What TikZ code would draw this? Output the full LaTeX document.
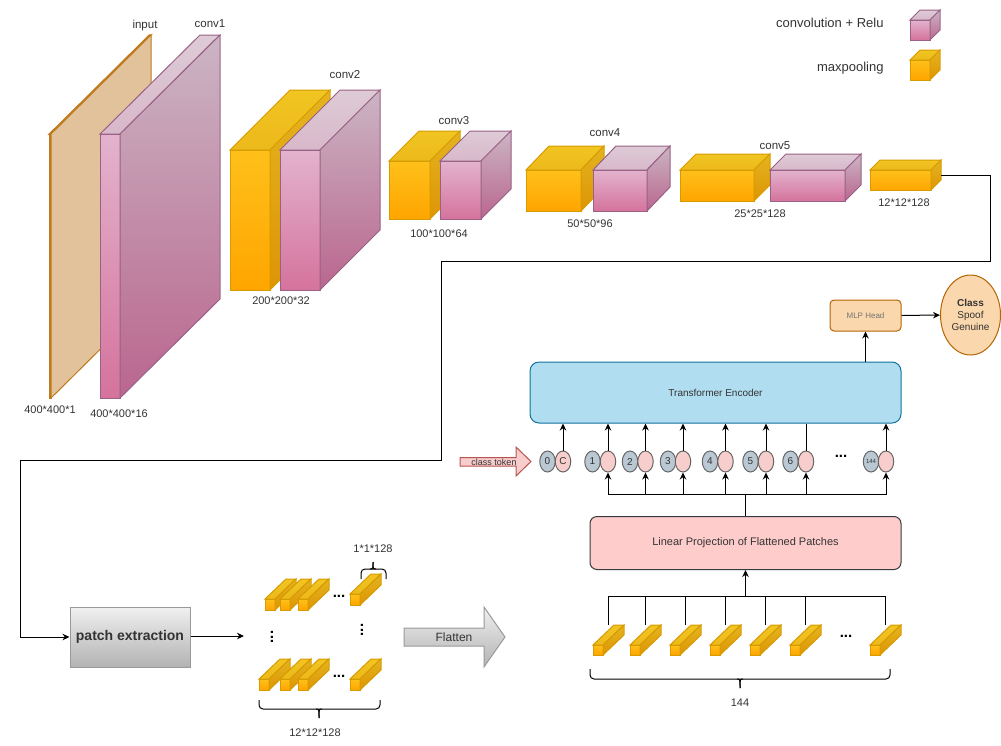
\documentclass[tikz,border=0pt]{standalone}
\usepackage{fontspec}
\setmainfont{Liberation Sans}
\usetikzlibrary{arrows.meta,shapes.geometric}

\definecolor{pinkline}{HTML}{996185}
\definecolor{poolline}{HTML}{D79B00}
\definecolor{plateline}{HTML}{BF7A1E}
\definecolor{inktext}{HTML}{333333}

\tikzset{
	>={Stealth[length=7pt,width=6.5pt]},
	txt/.style={font=\fontsize{#1}{#1}\selectfont,text=inktext,inner sep=0pt},
	txt/.default=11.5,
	dots/.style={font=\fontsize{15}{15}\selectfont\bfseries,text=black,inner sep=0pt},
	pinkfront/.style={draw=pinkline,top color={rgb,255:red,227;green,179;blue,206},bottom color={rgb,255:red,213;green,115;blue,157}},
	pinktop/.style={draw=pinkline,top color={rgb,255:red,222;green,203;blue,214},bottom color={rgb,255:red,216;green,184;blue,202}},
	pinkside/.style={draw=pinkline,top color={rgb,255:red,203;green,181;blue,196},bottom color={rgb,255:red,186;green,102;blue,142}},
	poolfront/.style={draw=poolline,top color={rgb,255:red,255;green,192;blue,26},bottom color={rgb,255:red,255;green,165;blue,0}},
	pooltop/.style={draw=poolline,top color={rgb,255:red,241;green,197;blue,34},bottom color={rgb,255:red,236;green,185;blue,26}},
	poolside/.style={draw=poolline,top color={rgb,255:red,228;green,180;blue,32},bottom color={rgb,255:red,222;green,149;blue,4}},
	platefront/.style={draw=plateline,line width=1.5pt,fill={rgb,255:red,225;green,194;blue,154}},
	platetop/.style={draw=plateline,line width=1.5pt,fill={rgb,255:red,225;green,194;blue,154}},
	plateside/.style={draw=plateline,fill={rgb,255:red,225;green,194;blue,154}},
	token/.style={ellipse,draw=black!60,minimum width=15.5pt,minimum height=21pt,inner sep=0pt,
		font=\fontsize{10}{10}\selectfont,text=inktext},
	bluetoken/.style={token,fill={rgb,255:red,186;green,200;blue,211}},
	redtoken/.style={token,fill={rgb,255:red,248;green,206;blue,204}},
	greybox/.style={draw=black!40,top color=black!6,bottom color=black!30},
}

% name, kind, x, y, width, height, depth x, depth y
\newcommand{\cube}[8]{
	\node[#2front,minimum width=#5pt,minimum height=#6pt,inner sep=0pt,outer sep=0pt,anchor=north west] (#1) at (#3,#4) {};
	\path[#2top] (#1.north west) -- ++(#7,-#8) -- ++(#5,0) -- (#1.north east) -- cycle;
	\path[#2side] (#1.north east) -- ++(#7,-#8) -- ++(0,#6) -- (#1.south east) -- cycle;
}
% left, right, tip x, end y, bar y, tip y
\newcommand{\curly}[6]{
	\draw[rounded corners=4pt] (#1,#4) -- (#1,#5) -- (#2,#5) -- (#2,#4);
	\draw (#3-3,#5) .. controls (#3,#5) .. (#3,#6);
	\draw (#3+3,#5) .. controls (#3,#5) .. (#3,#6);
}

\begin{document}
\begin{tikzpicture}[x=1pt,y=-1pt,line width=1pt]
	\useasboundingbox (0,0) rectangle (1001,745);

	% feature extractor
	\cube{input}{plate}{49.5}{134}{1.5}{264}{100}{99}
	\cube{conva}{pink}{100}{134}{20}{264}{100}{99}
	\cube{poolb}{pool}{230}{150}{40}{140}{60}{60}
	\cube{convb}{pink}{280}{150}{40}{140}{60}{60}
	\cube{poolc}{pool}{389}{161}{41}{58}{30}{30}
	\cube{convc}{pink}{440}{161}{41}{58}{30}{30}
	\cube{poold}{pool}{526}{170}{55}{41}{23}{24}
	\cube{convd}{pink}{593}{170}{54}{41}{23}{24}
	\cube{poole}{pool}{680}{170}{74}{31}{16}{16}
	\cube{conve}{pink}{770}{170}{75}{31}{16}{16}
	\cube{poolf}{pool}{870}{170}{61}{20}{10}{10}

	\node[txt] (lblinput) at (145,26) {input};
	\node[txt] (lblconva) at (210,24) {conv1};
	\node[txt] (lblconvb) at (345,75) {conv2};
	\node[txt] (lblconvc) at (454,121) {conv3};
	\node[txt] (lblconvd) at (605,133) {conv4};
	\node[txt] (lblconve) at (775,146) {conv5};
	\node[txt=11] (dimiput) at (50,410) {400*400*1};
	\node[txt=11] (dima) at (119,414) {400*400*16};
	\node[txt=11] (dimb) at (281,301) {200*200*32};
	\node[txt=11] (dimc) at (439,234) {100*100*64};
	\node[txt=11] (dimd) at (590,224) {50*50*96};
	\node[txt=11] (dime) at (760,214) {25*25*128};
	\node[txt=11] (dimf) at (904,203) {12*12*128};

	% legend
	\node[txt=13,anchor=east] (lblconvrelu) at (884,23) {convolution + Relu};
	\node[txt=13,anchor=east] (lblmaxpool) at (884,68) {maxpooling};
	\cube{legendconv}{pink}{910}{20}{20}{20}{10}{10}
	\cube{legendpool}{pool}{910}{60}{20}{20}{10}{10}

	% patches
	\node[greybox,minimum width=120pt,minimum height=60pt,inner sep=0pt,font=\fontsize{14}{14}\selectfont\bfseries,text=inktext] (patchbox) at (130,637) {patch extraction};
	\coordinate (poolfout) at (941,175);
	\draw[->] (poolfout) -- (990,175) -- (990,261) -- (441,261) -- (441,460) -- (20,460) |- (patchbox.west);
	\coordinate (gridin) at (244,636);
	\draw[->] (patchbox.east |- gridin) -- (gridin);

	\foreach \n/\px/\py in {a/265/599,b/280/599,c/298/599,d/350/594,e/259/679,f/280/679,g/298/679,h/350/679}{
		\cube{grid\n}{pool}{\px}{\py}{10}{11}{21}{20}
	}
	\node[dots] (griddotsa) at (339,596) {...};
	\node[dots] (griddotsb) at (339,676) {...};
	\node[dots,rotate=90] (griddotsc) at (272,637) {...};
	\node[dots,rotate=90] (griddotsd) at (362,630) {...};
	\curly{361}{386}{373}{579}{569}{562}
	\node[txt=11] (lblone) at (373,549) {1*1*128};
	\curly{259}{380}{319}{700}{709}{718}
	\node[txt=11] (lblgrid) at (315,733) {12*12*128};

	% flatten arrow
	\draw[greybox] (404,628) -- (484,628) -- (484,607) -- (505,637) -- (484,667) -- (484,646) -- (404,646) -- cycle;
	\node[txt=12] (lblflatten) at (454,637) {Flatten};

	% flattened row
	\node[draw={rgb,255:red,54;green,57;blue,61},fill={rgb,255:red,255;green,204;blue,204},rounded corners=7pt,minimum width=311pt,minimum height=53pt,inner sep=0pt,txt=11] (linear) at (745.5,543) {Linear Projection of Flattened Patches};
	\coordinate (rowbus) at (745.5,596);
	\foreach \n/\px in {a/593,b/630,c/670,d/710,e/750,f/790,g/870}{
		\cube{row\n}{pool}{\px}{645}{10}{10}{21}{20}
		\path (row\n.north east) ++(5,-20) coordinate (rowtop\n);
		\draw (rowtop\n) |- (rowbus);
	}
	\draw[->] (rowbus) -- (linear.south);
	\node[dots] (rowdots) at (846,636) {...};
	\curly{590}{890}{740}{669}{679}{688}
	\node[txt=11] (lblrow) at (740,703) {144};

	% encoder and head
	\node[draw={rgb,255:red,16;green,115;blue,158},fill={rgb,255:red,177;green,221;blue,240},rounded corners=9pt,minimum width=371pt,minimum height=61pt,inner sep=0pt,txt=10] (encoder) at (715.5,392.5) {Transformer Encoder};
	\node[draw={rgb,255:red,180;green,101;blue,4},fill={rgb,255:red,250;green,215;blue,172},rounded corners=4pt,minimum width=71pt,minimum height=31pt,inner sep=0pt,font=\fontsize{8}{8}\selectfont,text=black!55] (mlphead) at (865.5,315.5) {MLP Head};
	\node[ellipse,draw={rgb,255:red,180;green,101;blue,4},fill={rgb,255:red,250;green,215;blue,172},minimum width=60pt,minimum height=80pt,inner sep=0pt,align=center,font=\fontsize{10}{12}\selectfont,text=inktext] (classout) at (970.5,315) {\textbf{Class}\\Spoof\\Genuine};
	\draw[->] (encoder.north -| mlphead) -- (mlphead);
	\draw[->] (mlphead) -- (classout);

	% tokens
	\draw[draw={rgb,255:red,184;green,84;blue,80},fill={rgb,255:red,248;green,206;blue,204}] (460,457.5) -- (516,457.5) -- (516,447) -- (531,461.5) -- (516,476) -- (516,466) -- (460,466) -- cycle;
	\node[txt=9] (lblclass) at (494,462) {class token};
	\node[bluetoken] (blue0) at (547.5,461.5) {0};
	\node[redtoken] (red0) at (563,461.5) {C};
	\coordinate (tokbus) at (745.5,494);
	\draw (linear.north) -- (tokbus);
	\foreach \n/\xa/\xb in {1/592.5/608,2/630/645.5,3/668/683,4/710/725.5,5/750.5/766,6/790.5/806}{
		\node[bluetoken] (blue\n) at (\xa,461.5) {\n};
		\node[redtoken] (red\n) at (\xb,461.5) {};
		\draw[->] (tokbus) -| (red\n.south);
	}
	\node[bluetoken,font=\fontsize{6}{6}\selectfont] (blue144) at (871,461.5) {144};
	\node[redtoken] (red144) at (886,461.5) {};
	\draw[->] (tokbus) -| (red144.south);
	\foreach \n in {0,1,2,3,4,5,144}{
		\draw[->] (red\n.north) -- (red\n.north |- encoder.south);
	}
	\draw (red6.north) -- (red6.north |- encoder.south);
	\node[dots] (tokdots) at (841,456) {...};
\end{tikzpicture}
\end{document}
